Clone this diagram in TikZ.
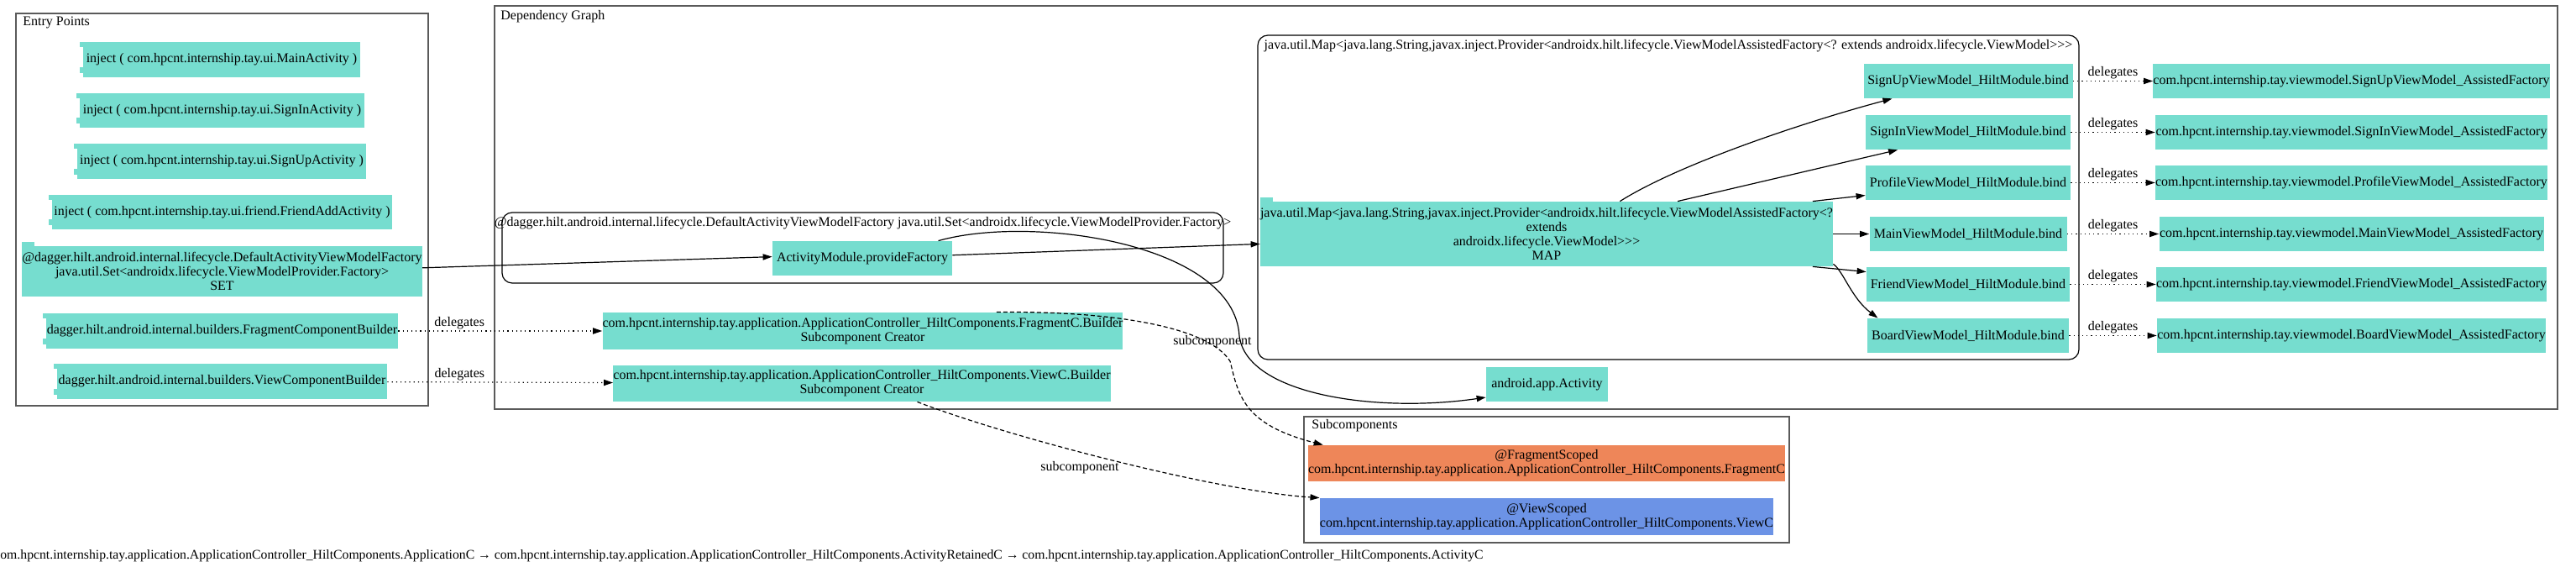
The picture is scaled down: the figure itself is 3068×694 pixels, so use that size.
\documentclass[tikz,border=0pt]{standalone}
\usepackage{fontspec}
\setmainfont{Liberation Serif}[Ligatures=TeXOff]
\usetikzlibrary{arrows.meta,calc}

\definecolor{nodeteal}{HTML}{76DDCF}
\definecolor{scopeorange}{HTML}{EE8659}
\definecolor{scopeblue}{HTML}{6C93E6}
\definecolor{clustergray}{HTML}{5A5A5A}

\tikzset{
	txt/.style={font=\fontsize{8}{8.4}\selectfont, inner sep=0pt},
	box/.style={txt, fill=nodeteal, align=center},
	compbox/.style={box, append after command={\pgfextra{
		\fill[nodeteal] ([xshift=-2pt]\tikzlastnode.north west) rectangle ([yshift=-3pt]\tikzlastnode.north west);
		\fill[nodeteal] ([xshift=-2pt,yshift=2.5pt]\tikzlastnode.south west) rectangle ([yshift=6pt]\tikzlastnode.south west);}}},
	tabbox/.style={box, append after command={\pgfextra{
		\fill[nodeteal] (\tikzlastnode.north west) rectangle ([xshift=7.75pt,yshift=2.25pt]\tikzlastnode.north west);}}},
	cluster/.style={draw=clustergray, line width=1pt},
	rcluster/.style={draw=black, line width=0.6pt, rounded corners=6pt},
	dep/.style={-{Triangle[length=5.5pt,width=3.6pt]}, line width=0.6pt},
	deleg/.style={dep, dotted},
	subc/.style={dep, dash pattern=on 2.5pt off 1.5pt},
}

\begin{document}
\begin{tikzpicture}[x=0.5pt, y=-0.5pt]
	\path[use as bounding box, fill=white] (0,0) rectangle (3068,694);

	% clusters
	\draw[cluster] (19,16) rectangle (510,483);
	\node[txt, anchor=base west] (entryLbl) at (27,31) {Entry Points};
	\draw[cluster] (589,7) rectangle (3046,487);
	\node[txt, anchor=base west] (depLbl) at (596,24) {Dependency Graph};
	\draw[rcluster] (598,253) rectangle (1457,337);
	\node[txt, anchor=base] (setLbl) at (1027.5,270) {@dagger.hilt.android.internal.lifecycle.DefaultActivityViewModelFactory java.util.Set<androidx.lifecycle.ViewModelProvider.Factory>};
	\draw[rcluster] (1498,42) rectangle (2476,428);
	\node[txt, anchor=base] (mapLbl) at (1987,59) {java.util.Map<java.lang.String,javax.inject.Provider<androidx.hilt.lifecycle.ViewModelAssistedFactory<? extends androidx.lifecycle.ViewModel>>>};
	\draw[cluster] (1553,496) rectangle (2131,646);
	\node[txt, anchor=base west] (subLbl) at (1562,511) {Subcomponents};

	% entry points
	\node[compbox, minimum width=165pt, minimum height=21pt] (eMain) at (264,71) {inject ( com.hpcnt.internship.tay.ui.MainActivity )};
	\node[compbox, minimum width=169.5pt, minimum height=20.5pt] (eSignIn) at (264.5,131.5) {inject ( com.hpcnt.internship.tay.ui.SignInActivity )};
	\node[compbox, minimum width=172pt, minimum height=21pt] (eSignUp) at (264,192) {inject ( com.hpcnt.internship.tay.ui.SignUpActivity )};
	\node[compbox, minimum width=202.5pt, minimum height=20.5pt] (eFriend) at (264.5,252.5) {inject ( com.hpcnt.internship.tay.ui.friend.FriendAddActivity )};
	\node[tabbox, minimum width=237.5pt, minimum height=30pt] (eSet) at (264.5,323) {@dagger.hilt.android.internal.lifecycle.DefaultActivityViewModelFactory\\java.util.Set<androidx.lifecycle.ViewModelProvider.Factory>\\SET};
	\node[compbox, minimum width=209.5pt, minimum height=21pt] (eFragB) at (264.5,394) {dagger.hilt.android.internal.builders.FragmentComponentBuilder};
	\node[compbox, minimum width=196.5pt, minimum height=21pt] (eViewB) at (264.5,454) {dagger.hilt.android.internal.builders.ViewComponentBuilder};

	% dependency graph
	\node[box, minimum width=107pt, minimum height=20.5pt] (prov) at (1027,307.5) {ActivityModule.provideFactory};
	\node[box, minimum width=305.5pt, minimum height=22pt] (fragCB) at (1027.5,394) {com.hpcnt.internship.tay.application.ApplicationController\_HiltComponents.FragmentC.Builder\\Subcomponent Creator};
	\node[box, minimum width=291.5pt, minimum height=21.5pt] (viewCB) at (1026.5,456.5) {com.hpcnt.internship.tay.application.ApplicationController\_HiltComponents.ViewC.Builder\\Subcomponent Creator};
	\node[tabbox, minimum width=337pt, minimum height=38.5pt] (map) at (1842,278.5) {java.util.Map<java.lang.String,javax.inject.Provider<androidx.hilt.lifecycle.ViewModelAssistedFactory<?\\extends\\androidx.lifecycle.ViewModel>>>\\MAP};
	\node[box, minimum width=72.5pt, minimum height=20.5pt] (act) at (1842.5,457.5) {android.app.Activity};

	\foreach \vm/\y/\bw/\fw in {SignUp/96.5/124.5/236, SignIn/157.5/122/233.5, Profile/217.5/122/233.5, Main/278.5/117.5/229, Friend/338.5/121/232.5, Board/399.5/120/231.5}{
		\node[box, minimum width=\bw pt, minimum height=20.5pt] (b\vm) at (2344,\y) {\vm ViewModel\_HiltModule.bind};
		\node[box, minimum width=\fw pt, minimum height=20.5pt] (f\vm) at (2800.5,\y) {com.hpcnt.internship.tay.viewmodel.\vm ViewModel\_AssistedFactory};
		\draw[deleg] (b\vm) -- node[txt, above=0.8pt] {delegates} (f\vm);
	}

	% subcomponents
	\node[box, fill=scopeorange, minimum width=281pt, minimum height=21.5pt] (subFrag) at (1842,551.5) {@FragmentScoped\\com.hpcnt.internship.tay.application.ApplicationController\_HiltComponents.FragmentC};
	\node[box, fill=scopeblue, minimum width=268pt, minimum height=22pt] (subView) at (1842,615) {@ViewScoped\\com.hpcnt.internship.tay.application.ApplicationController\_HiltComponents.ViewC};

	% edges
	\draw[dep] (eSet.1) -- (prov.179);
	\draw[dep] (prov.2) -- (map.182);
	\draw[dep] (prov.13) .. controls (1230,255) and (1470,290) .. (1476,400) .. controls (1485,470) and (1640,492) .. (act.192);
	\draw[dep] (map.24) .. controls (2000,195) and (2150,145) .. (bSignUp.193);
	\draw[dep] (map.14) -- (bSignIn.194);
	\draw[dep] (map.7) -- (bProfile.187);
	\draw[dep] (map.east) -- (bMain.west);
	\draw[dep] (map.-7) -- (bFriend.173);
	\draw[dep] (map.-6.8) .. controls (2195,322) and (2205,355) .. (bBoard.169);
	\draw[deleg] (eFragB) -- node[txt, pos=0.3, above=0.8pt] {delegates} (fragCB);
	\draw[deleg] (eViewB) -- node[txt, pos=0.32, above=0.8pt] {delegates} (viewCB);
	\draw[subc] (fragCB.8) .. controls (1330,370) and (1440,390) .. (1465,430) .. controls (1475,470) and (1480,505) .. ([xshift=9pt]subFrag.north west);
	\draw[subc] ([xshift=33pt]viewCB.south) .. controls (1200,520) and (1450,585) .. (subView.north west);
	\node[txt] (subLbl1) at (1444,407) {subcomponent};
	\node[txt] (subLbl2) at (1286,557) {subcomponent};

	\node[txt, font=\fontsize{7.86}{8.4}\selectfont, anchor=base west] (pathLbl) at (-7,666) {com.hpcnt.internship.tay.application.ApplicationController\_HiltComponents.ApplicationC → com.hpcnt.internship.tay.application.ApplicationController\_HiltComponents.ActivityRetainedC → com.hpcnt.internship.tay.application.ApplicationController\_HiltComponents.ActivityC};
\end{tikzpicture}
\end{document}
